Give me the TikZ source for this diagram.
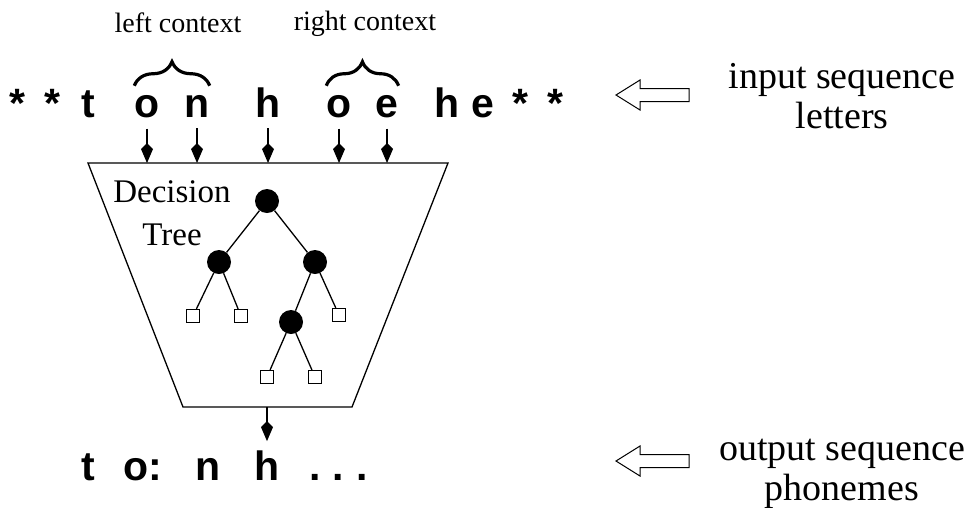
\documentclass[tikz,border=0pt]{standalone}
\usepackage{fontspec}
\setmainfont{Liberation Serif}
\newfontfamily\seqfont{Liberation Sans}
\usetikzlibrary{arrows.meta,decorations.pathreplacing}
\tikzset{
  seq/.style={font=\seqfont\bfseries\fontsize{41}{41}\selectfont,inner sep=0pt,anchor=base},
  lbl/.style={font=\fontsize{28}{32}\selectfont,inner sep=0pt,anchor=base},
  side/.style={font=\fontsize{38}{40}\selectfont,align=center,inner sep=0pt,anchor=base},
  feed/.style={-{Kite[length=20pt,width=12pt,inset=6pt]},line width=1.3pt},
  ctx/.style={decorate,decoration={brace,amplitude=24pt},line width=3.2pt},
  split/.style={circle,fill=black,inner sep=0pt,minimum size=24pt},
  leaf/.style={draw,fill=white,line width=1.2pt,inner sep=0pt,minimum size=13pt},
  branch/.style={line width=1.3pt},
}
\begin{document}
\begin{tikzpicture}[x=1pt,y=-1pt]
  \useasboundingbox[fill=white] (0,0) rectangle (976,507);
  % input letters
  \foreach \x/\ch [count=\i] in {17/*,52/*,88/t,147/o,197/n,268/h,339/o,387/e,447/h,483/e,520/*,555/*}
    \node[seq] (in\i) at (\x,117) {\ch};
  % output phonemes
  \foreach \x/\ch [count=\i] in {88/t,143/o:,208/n,267/h,315/.,338/.,362/.}
    \node[seq] (out\i) at (\x,480) {\ch};
  % context braces
  \draw[ctx] ([yshift=9pt]in4.north west) -- ([yshift=9pt]in5.north east);
  \draw[ctx] ([yshift=9pt]in7.north west) -- ([yshift=9pt]in8.north east);
  \node[lbl] (lctx) at (178,32) {left context};
  \node[lbl] (rctx) at (365,30) {right context};
  % tree box
  \coordinate (tl) at (88,163); \coordinate (tr) at (448,163);
  \coordinate (br) at (352,407); \coordinate (bl) at (183,407);
  \draw[line width=1.3pt] (tl) -- (tr) -- (br) -- (bl) -- cycle;
  \node[font=\fontsize{33}{43}\selectfont,align=center,inner sep=0pt,anchor=base] (dtree) at (172,245) {Decision\\Tree};
  \foreach \i in {4,5,6,7,8}
    \draw[feed] ([yshift=-11pt]in\i.south) -- (in\i.south |- tl);
  \draw[feed] (out4 |- bl) -- ([yshift=9pt]out4.north);
  % the tree
  \node[split] (root) at (267,201) {};
  \node[split] (na) at (219,262) {};
  \node[split] (nb) at (315,262) {};
  \node[split] (nc) at (291,322) {};
  \node[leaf] (la1) at (193,316) {};
  \node[leaf] (la2) at (241,316) {};
  \node[leaf] (lb) at (339,315) {};
  \node[leaf] (lc1) at (267,377) {};
  \node[leaf] (lc2) at (315,377) {};
  \draw[branch] (root) -- (na) (root) -- (nb) (na) -- (la1) (na) -- (la2)
    (nb) -- (nc) (nb) -- (lb) (nc) -- (lc1) (nc) -- (lc2);
  % hollow arrows and side labels
  \foreach \y in {95,461}
    \draw[line width=1pt] (616,\y) -- (640,\y-15) -- (640,\y-6.5) -- (689,\y-6.5)
      -- (689,\y+6.5) -- (640,\y+6.5) -- (640,\y+15) -- cycle;
  \node[side] (inlbl) at (842,128) {input sequence\\letters};
  \node[side] (outlbl) at (842,500) {output sequence\\phonemes};
\end{tikzpicture}
\end{document}
